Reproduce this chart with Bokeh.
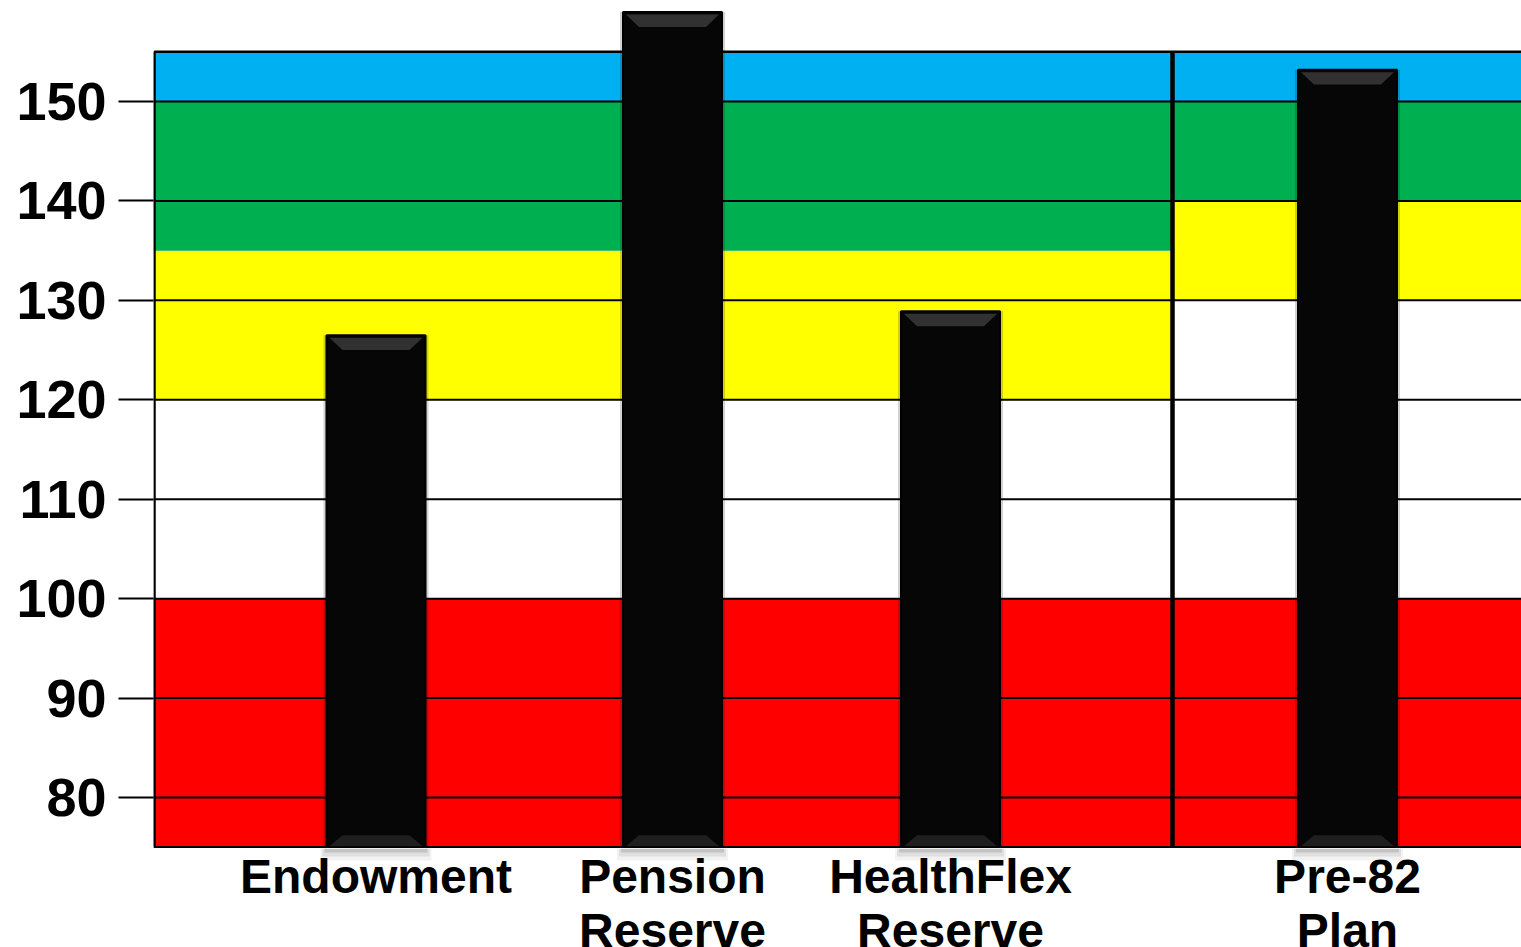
from bokeh.plotting import figure
from bokeh.models import FixedTicker, Range1d
from bokeh.layouts import column
from bokeh.core.properties import value
from bokeh.embed import file_html
from bokeh.resources import INLINE

# ---------------- data ----------------
categories = ["Endowment", "Pension\nReserve", "HealthFlex\nReserve", "Pre-82\nPlan"]
ratios = [126.5, 159.0, 128.9, 153.2]
y_ticks = [80, 90, 100, 110, 120, 130, 140, 150]
band_colors = ["#FF0000", "#FFFFFF", "#FFFF00", "#00B050", "#00B0F0"]
left_band_edges = [75, 100, 120, 135, 150, 155]
right_band_edges = [75, 100, 130, 140, 150, 155]

# ---------------- layout (px-like x units) ----------------
W = 1521
LEFT = 153
X_MAX = W - LEFT
bar_x = [222.5, 519, 797, 1194]
bar_w = 99
split_x = 1019
Y_MIN, Y_MAX = 74.87, 160.16
MAIN_H = 848
LABEL_H = 99
FONT = "Liberation Sans"

xr = Range1d(0, X_MAX)
p = figure(width=W, height=MAIN_H, output_backend="svg", toolbar_location=None,
           x_range=xr, y_range=Range1d(Y_MIN, Y_MAX),
           min_border_left=LEFT, min_border_right=0, min_border_top=0,
           min_border_bottom=0)
p.outline_line_color = None
p.grid.visible = False
p.xaxis.visible = False

ya = p.yaxis[0]
ya.ticker = FixedTicker(ticks=y_ticks)
ya.axis_line_color = None
ya.major_tick_out = 35
ya.major_tick_in = 0
ya.major_tick_line_width = 2
ya.major_tick_line_color = "black"
ya.minor_tick_line_color = None
ya.major_label_standoff = 12
ya.major_label_text_font = FONT
ya.major_label_text_font_style = "bold"
ya.major_label_text_font_size = "54px"
ya.major_label_text_color = "black"

# colour bands
lo, hi = left_band_edges[:-1], left_band_edges[1:]
p.quad(left=0, right=split_x, bottom=lo, top=hi, fill_color=band_colors, line_color=None)
lo, hi = right_band_edges[:-1], right_band_edges[1:]
p.quad(left=split_x, right=X_MAX, bottom=lo, top=hi, fill_color=band_colors, line_color=None)

# grid lines
p.segment(x0=0, x1=X_MAX, y0=y_ticks, y1=y_ticks, line_color="black", line_width=2)
# border & divider
p.quad(left=1, right=X_MAX + 5, bottom=left_band_edges[0], top=left_band_edges[-1],
       fill_color=None, line_color="black", line_width=2.5)
p.segment(x0=split_x, x1=split_x, y0=left_band_edges[0], y1=left_band_edges[-1],
          line_color="black", line_width=4.5)

# bars: soft shadow + body + bevels
base = left_band_edges[0]
p.vbar(x=bar_x, top=ratios, bottom=base, width=bar_w + 6, fill_color="#000000",
       fill_alpha=0.18, line_color=None)
p.vbar(x=bar_x, top=ratios, bottom=base, width=bar_w, fill_color="#060606",
       line_color="#000000", line_width=2)

top_xs, top_ys, bot_xs, bot_ys = [], [], [], []
for cx, v in zip(bar_x, ratios):
    hw = bar_w / 2
    top_xs.append([cx - hw + 3, cx + hw - 3, cx + hw - 16, cx - hw + 16])
    top_ys.append([v - 0.25, v - 0.25, v - 1.5, v - 1.5])
    bot_xs.append([cx - hw + 3, cx + hw - 3, cx + hw - 16, cx - hw + 16])
    bot_ys.append([base + 0.1, base + 0.1, base + 1.2, base + 1.2])
p.patches(top_xs, top_ys, fill_color="#3a3a3a", fill_alpha=0.85, line_color=None)
p.patches(bot_xs, bot_ys, fill_color="#222222", fill_alpha=0.9, line_color=None)

# category labels strip below the chart (shares the x scale)
lab = figure(width=W, height=LABEL_H, output_backend="svg", toolbar_location=None,
             x_range=xr, y_range=Range1d(LABEL_H, 0),
             min_border_left=LEFT, min_border_right=0, min_border_top=0,
             min_border_bottom=0)
lab.outline_line_color = None
lab.grid.visible = False
lab.axis.visible = False
# soft shadow under bar feet
for d, a in ((4, 0.12), (8, 0.08), (12, 0.05)):
    lab.quad(left=[c - bar_w / 2 - d / 2 for c in bar_x],
             right=[c + bar_w / 2 + d / 2 for c in bar_x],
             top=0, bottom=d, fill_color="black", fill_alpha=a, line_color=None)
lab.text(x=bar_x, y=[1] * len(bar_x), text=categories, text_align="center",
         text_baseline="top", text_font=value(FONT), text_font_style="bold",
         text_font_size="48px", text_color="black", text_line_height=1.02)

open("out.html", "w").write(file_html(column(p, lab, spacing=0), INLINE))
